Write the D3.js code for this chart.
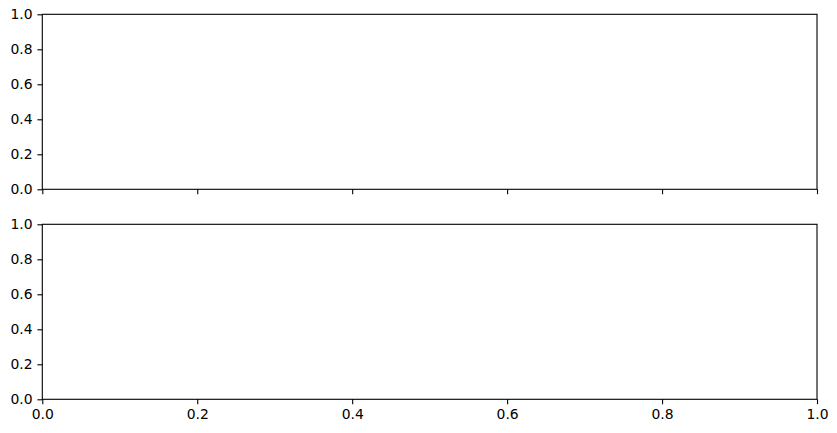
<!DOCTYPE html>
<html><head><meta charset="utf-8">
<script src="https://cdn.jsdelivr.net/npm/d3@7"></script>
<style>body{margin:0;background:#fff}svg{display:block}text{font-family:"DejaVu Sans";}</style>
</head><body><svg id="c" width="837" height="433"></svg>
<script>
const xDomain = [0, 1];
const yDomain = [0, 1];
const xTicks = [0, 0.2, 0.4, 0.6, 0.8, 1.0];
const yTicks = [0, 0.2, 0.4, 0.6, 0.8, 1.0];
const panels = [{top: 14.3, showX: false}, {top: 224.3, showX: true}];

const svg = d3.select("#c");
const L = 42.3, R = 817, H = 175;
const x = d3.scaleLinear().domain(xDomain).range([L, R]);
const tl = 4.86, pad = 4.86;
panels.forEach(p => {
  const y = d3.scaleLinear().domain(yDomain).range([p.top + H, p.top]);
  const g = svg.append("g");
  const xa = g.append("g").attr("transform", `translate(0,${p.top + H})`)
    .call(d3.axisBottom(x).tickValues(xTicks).tickSize(tl).tickPadding(pad)
      .tickFormat(p.showX ? d3.format(".1f") : () => ""));
  const ya = g.append("g").attr("transform", `translate(${L},0)`)
    .call(d3.axisLeft(y).tickValues(yTicks).tickSize(tl).tickPadding(pad).tickFormat(d3.format(".1f")));
  [xa, ya].forEach(a => {
    a.select(".domain").remove();
    a.selectAll("line").attr("stroke", "#000").attr("stroke-width", 1.1);
    a.selectAll("text").attr("font-size", "13.9px").attr("fill", "#000").attr("font-family", "DejaVu Sans");
  });
  g.append("rect").attr("x", L).attr("y", p.top).attr("width", R - L).attr("height", H)
    .attr("fill", "none").attr("stroke", "#000").attr("stroke-width", 1.1);
});
</script></body></html>
